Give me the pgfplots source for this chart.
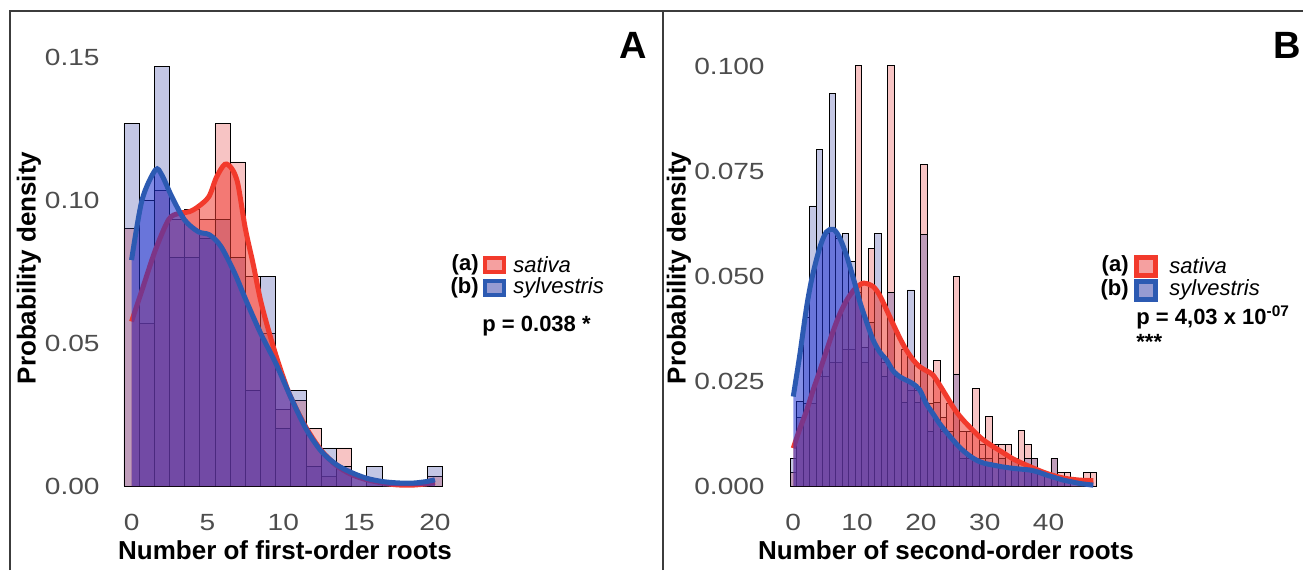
\documentclass[border=0pt]{standalone}
\usepackage{fontspec}
\setmainfont{Liberation Sans}
\newfontfamily\wide[FakeStretch=1.2]{Liberation Sans}
\usepackage{pgfplots}
\usepackage{pgfplotstable}
\pgfplotsset{compat=1.18}

\definecolor{satHist}{RGB}{230,60,60}
\definecolor{sylHist}{RGB}{60,70,165}
\definecolor{satKde}{RGB}{240,60,50}
\definecolor{sylKde}{RGB}{30,50,210}
\definecolor{satLine}{RGB}{242,58,44}
\definecolor{sylLine}{RGB}{44,90,178}
\definecolor{satKey}{RGB}{245,160,160}
\definecolor{sylKey}{RGB}{150,155,210}
\definecolor{tickgray}{RGB}{77,77,77}
\definecolor{frame}{RGB}{60,60,60}

% first-order roots, bins of width 1
\pgfplotstableread{
k  sat    syl
0  0.0900 0.1267
1  0.0567 0.1000
2  0.1033 0.1467
3  0.0933 0.0800
4  0.0967 0.0800
5  0.0933 0.0867
6  0.1267 0.0933
7  0.1133 0.0800
8  0.0733 0.0333
9  0.0533 0.0733
10 0.0267 0.0200
11 0.0300 0.0333
12 0.0200 0.0067
13 0.0033 0.0133
14 0.0133 0.0067
15 0      0
16 0      0.0067
17 0      0
18 0      0
19 0      0
20 0.0033 0.0067
}\histA

% second-order roots, 47 bins over 0..47
\pgfplotstableread{
k  sat    syl
0  0.0033 0.0066
1  0.0163 0.0201
2  0.0196 0.0402
3  0.0196 0.0667
4  0.0261 0.0802
5  0.0261 0.0602
6  0.0294 0.0935
7  0.0294 0.0590
8  0.0326 0.0602
9  0.0326 0.0534
10 0.1001 0.0460
11 0.0294 0.0330
12 0.0566 0.0390
13 0.0326 0.0602
14 0.0294 0.0260
15 0.1001 0.0460
16 0.0261 0.0260
17 0.0326 0.0200
18 0.0228 0.0467
19 0.0228 0.0200
20 0.0766 0.0600
21 0.0196 0.0130
22 0.0300 0.0200
23 0.0163 0.0130
24 0.0196 0.0130
25 0.0500 0.0267
26 0.0130 0.0065
27 0.0130 0.0065
28 0.0233 0.0065
29 0.0098 0.0065
30 0.0165 0.0065
31 0.0098 0
32 0.0098 0.0065
33 0.0098 0
34 0.0065 0.0065
35 0.0133 0
36 0.0098 0.0065
37 0.0066 0.0065
38 0.0033 0
39 0.0033 0
40 0.0066 0.0065
41 0.0033 0
42 0.0033 0
43 0      0
44 0      0
45 0.0032 0
46 0.0032 0
}\histB

\pgfplotsset{
  panel/.style={
    scale only axis, clip=false,
    axis line style={draw=none}, tick style={draw=none}, major tick length=0pt,
    /pgf/number format/assume math mode=true,
    ticklabel style={font=\wide\fontsize{11.7}{12}\selectfont, text=tickgray, inner sep=0pt},
  },
  hist/.style={ybar, bar shift=0pt, draw=black, line width=0.35pt, fill opacity=0.3},
  kde/.style={draw=none, smooth, fill opacity=0.55},
  kdeline/.style={smooth, line width=2.5pt},
}

\begin{document}
\begin{tikzpicture}[x=0.5pt,y=0.5pt]
\useasboundingbox (0,0) rectangle (1303,570);
\draw[frame, line width=0.6pt] (10,0) -- (10,559) -- (1303,559);
\draw[frame, line width=0.6pt] (663,0) -- (663,559);

% ---- A ----
\begin{axis}[panel,
  at={(58.2pt,34.85pt)}, anchor=south west,
  width=170.65pt, height=235.95pt,
  xmin=-1, xmax=21.5, ymin=-0.005, ymax=0.16,
  xtick={0,5,10,15,20}, xticklabels={0,5,10,15,20},
  ytick={0,0.05,0.10,0.15}, yticklabels={0.00,0.05,0.10,0.15},
  xticklabel style={yshift=-6.85pt},
  yticklabel style={xshift=-8.2pt},
  bar width=1,
]
\addplot[hist, fill=satHist] table[x=k, y=sat] {\histA};
\addplot[hist, fill=sylHist] table[x=k, y=syl] {\histA};
\addplot[kde, fill=satKde] coordinates {
 (0,0.0575) (0.69,0.0685) (1.57,0.0825) (2.45,0.0932) (3.1,0.0953) (3.8,0.0959)
 (4.4,0.0977) (5.1,0.1012) (5.6,0.108) (6.15,0.1125) (6.6,0.1110) (7.0,0.1058)
 (7.5,0.090) (8,0.078) (8.5,0.065) (9,0.055) (9.5,0.046) (10,0.038) (10.5,0.031)
 (11.5,0.0205) (12.5,0.0125) (13.5,0.0072) (14.5,0.004) (15.5,0.0022) (16.5,0.0011)
 (17.5,0.0004) (18.5,0.0003) (19.5,0.0008) (20,0.0013)} \closedcycle;
\addplot[kdeline, satLine] coordinates {
 (0,0.0575) (0.69,0.0685) (1.57,0.0825) (2.45,0.0932) (3.1,0.0953) (3.8,0.0959)
 (4.4,0.0977) (5.1,0.1012) (5.6,0.108) (6.15,0.1125) (6.6,0.1110) (7.0,0.1058)
 (7.5,0.090) (8,0.078) (8.5,0.065) (9,0.055) (9.5,0.046) (10,0.038) (10.5,0.031)
 (11.5,0.0205) (12.5,0.0125) (13.5,0.0072) (14.5,0.004) (15.5,0.0022) (16.5,0.0011)
 (17.5,0.0004) (18.5,0.0003) (19.5,0.0008) (20,0.0013)};
\addplot[kde, fill=sylKde] coordinates {
 (0,0.079) (0.69,0.100) (1.57,0.1105) (2.0,0.1087) (2.65,0.1012) (3.5,0.093)
 (4.4,0.0889) (5.15,0.0878) (5.9,0.0837) (6.8,0.0744) (7.5,0.0655) (8.5,0.0535)
 (9.5,0.043) (10.5,0.031) (11.5,0.020) (12.5,0.0122) (13.5,0.0075) (14.5,0.0047)
 (15.5,0.0027) (16.5,0.0016) (17.5,0.0011) (18.5,0.001) (19.5,0.0016) (20,0.0022)} \closedcycle;
\addplot[kdeline, sylLine] coordinates {
 (0,0.079) (0.69,0.100) (1.57,0.1105) (2.0,0.1087) (2.65,0.1012) (3.5,0.093)
 (4.4,0.0889) (5.15,0.0878) (5.9,0.0837) (6.8,0.0744) (7.5,0.0655) (8.5,0.0535)
 (9.5,0.043) (10.5,0.031) (11.5,0.020) (12.5,0.0122) (13.5,0.0075) (14.5,0.0047)
 (15.5,0.0027) (16.5,0.0016) (17.5,0.0011) (18.5,0.001) (19.5,0.0016) (20,0.0022)};
\end{axis}

% ---- B ----
\begin{axis}[panel,
  at={(390.25pt,34.65pt)}, anchor=south west,
  width=162.77pt, height=229.95pt,
  xmin=-2, xmax=49, ymin=-0.0035, ymax=0.106,
  xtick={0,10,20,30,40}, xticklabels={0,10,20,30,40},
  ytick={0,0.025,0.05,0.075,0.1}, yticklabels={0.000,0.025,0.050,0.075,0.100},
  xticklabel style={yshift=-6.65pt},
  yticklabel style={xshift=-7.75pt},
  bar width=1.02174,
]
\addplot[hist, fill=satHist] table[x expr=\thisrow{k}*1.02174, y=sat] {\histB};
\addplot[hist, fill=sylHist] table[x expr=\thisrow{k}*1.02174, y=syl] {\histB};
\addplot[kde, fill=satKde] coordinates {
 (0,0.009) (1,0.0135) (2.1,0.018) (3.1,0.0228) (4.2,0.0276) (5.2,0.0322) (6.3,0.0371)
 (7.3,0.041) (8.4,0.0443) (9.7,0.047) (11,0.0483) (12.5,0.0475) (13.5,0.0455)
 (14.6,0.042) (15.6,0.0387) (16.7,0.0352) (17.7,0.0324) (18.8,0.030) (19.8,0.0284)
 (20.9,0.0274) (21.9,0.0264) (23.4,0.0229) (25,0.0189) (26,0.0168) (27.1,0.0149)
 (28.2,0.0132) (29.2,0.0117) (30.2,0.0105) (31.3,0.0094) (32.6,0.0082) (34.5,0.0064)
 (37.1,0.0046) (39.7,0.003) (42.3,0.0019) (44.9,0.0014) (47,0.0013)} \closedcycle;
\addplot[kdeline, satLine] coordinates {
 (0,0.009) (1,0.0135) (2.1,0.018) (3.1,0.0228) (4.2,0.0276) (5.2,0.0322) (6.3,0.0371)
 (7.3,0.041) (8.4,0.0443) (9.7,0.047) (11,0.0483) (12.5,0.0475) (13.5,0.0455)
 (14.6,0.042) (15.6,0.0387) (16.7,0.0352) (17.7,0.0324) (18.8,0.030) (19.8,0.0284)
 (20.9,0.0274) (21.9,0.0264) (23.4,0.0229) (25,0.0189) (26,0.0168) (27.1,0.0149)
 (28.2,0.0132) (29.2,0.0117) (30.2,0.0105) (31.3,0.0094) (32.6,0.0082) (34.5,0.0064)
 (37.1,0.0046) (39.7,0.003) (42.3,0.0019) (44.9,0.0014) (47,0.0013)};
\addplot[kde, fill=sylKde] coordinates {
 (0,0.0213) (1,0.031) (2.1,0.0427) (3,0.050) (4.2,0.057) (5.2,0.0605) (6.3,0.0611)
 (7.3,0.059) (8.4,0.0546) (9.5,0.049) (10.5,0.0435) (11.5,0.039) (12.5,0.0348)
 (13.5,0.032) (14.6,0.030) (15.6,0.0275) (16.7,0.026) (17.7,0.0252) (18.7,0.0244)
 (19.8,0.0229) (20.8,0.0197) (21.9,0.0172) (22.9,0.0149) (24,0.0128) (25,0.011)
 (26,0.0093) (27.1,0.0078) (28.2,0.0066) (29.2,0.0058) (30.2,0.0053) (31.3,0.005)
 (32.6,0.0046) (34.5,0.0042) (35.8,0.004) (37.1,0.0038) (38.4,0.0033) (39.7,0.0026)
 (41,0.002) (42.3,0.0014) (43.6,0.001) (44.9,0.0006) (47,0.0002)} \closedcycle;
\addplot[kdeline, sylLine] coordinates {
 (0,0.0213) (1,0.031) (2.1,0.0427) (3,0.050) (4.2,0.057) (5.2,0.0605) (6.3,0.0611)
 (7.3,0.059) (8.4,0.0546) (9.5,0.049) (10.5,0.0435) (11.5,0.039) (12.5,0.0348)
 (13.5,0.032) (14.6,0.030) (15.6,0.0275) (16.7,0.026) (17.7,0.0252) (18.7,0.0244)
 (19.8,0.0229) (20.8,0.0197) (21.9,0.0172) (22.9,0.0149) (24,0.0128) (25,0.011)
 (26,0.0093) (27.1,0.0078) (28.2,0.0066) (29.2,0.0058) (30.2,0.0053) (31.3,0.005)
 (32.6,0.0046) (34.5,0.0042) (35.8,0.004) (37.1,0.0038) (38.4,0.0033) (39.7,0.0026)
 (41,0.002) (42.3,0.0014) (43.6,0.001) (44.9,0.0006) (47,0.0002)};
\end{axis}

% axis titles
\node[font=\bfseries\fontsize{13}{14}\selectfont, rotate=90] at (29,302) {Probability density};
\node[font=\bfseries\fontsize{13}{14}\selectfont, rotate=90] at (679,302) {Probability density};
\node[font=\bfseries\fontsize{13}{14}\selectfont] at (285,20) {Number of first-order roots};
\node[font=\bfseries\fontsize{13}{14}\selectfont] at (946,20) {Number of second-order roots};

% panel letters
\node[font=\bfseries\fontsize{19}{20}\selectfont] at (633,525) {A};
\node[font=\bfseries\fontsize{19}{20}\selectfont] at (1287,525) {B};

% legend A
\fill[satLine] (483,296) rectangle (506,314);
\fill[satKey] (487,300) rectangle (502,310);
\fill[sylLine] (483,273) rectangle (506,291);
\fill[sylKey] (487,277) rectangle (502,287);
\begin{scope}[every node/.style={inner sep=0pt}]
\node[anchor=east, font=\bfseries\fontsize{11}{12}\selectfont] at (479,305) {(a)};
\node[anchor=east, font=\bfseries\fontsize{11}{12}\selectfont] at (479,282) {(b)};
\node[anchor=west, font=\itshape\fontsize{11}{12}\selectfont] at (513,305) {sativa};
\node[anchor=west, font=\itshape\fontsize{11}{12}\selectfont] at (513,282) {sylvestris};
\node[anchor=west, font=\bfseries\fontsize{11}{12}\selectfont] at (482,244) {p = 0.038 *};
\end{scope}

% legend B
\fill[satLine] (1134,292) rectangle (1158,315);
\fill[satKey] (1139,297) rectangle (1153,310);
\fill[sylLine] (1134,268) rectangle (1158,291);
\fill[sylKey] (1139,273) rectangle (1153,286);
\begin{scope}[every node/.style={inner sep=0pt}]
\node[anchor=east, font=\bfseries\fontsize{11}{12}\selectfont] at (1129,304) {(a)};
\node[anchor=east, font=\bfseries\fontsize{11}{12}\selectfont] at (1129,280) {(b)};
\node[anchor=west, font=\itshape\fontsize{11}{12}\selectfont] at (1169,304) {sativa};
\node[anchor=west, font=\itshape\fontsize{11}{12}\selectfont] at (1169,280) {sylvestris};
\node[anchor=west, font=\bfseries\fontsize{11}{12}\selectfont] at (1136,253) {p = 4,03 x 10\textsuperscript{-07}};
\node[anchor=west, font=\bfseries\fontsize{11}{12}\selectfont] at (1136,228) {***};
\end{scope}
\end{tikzpicture}
\end{document}
